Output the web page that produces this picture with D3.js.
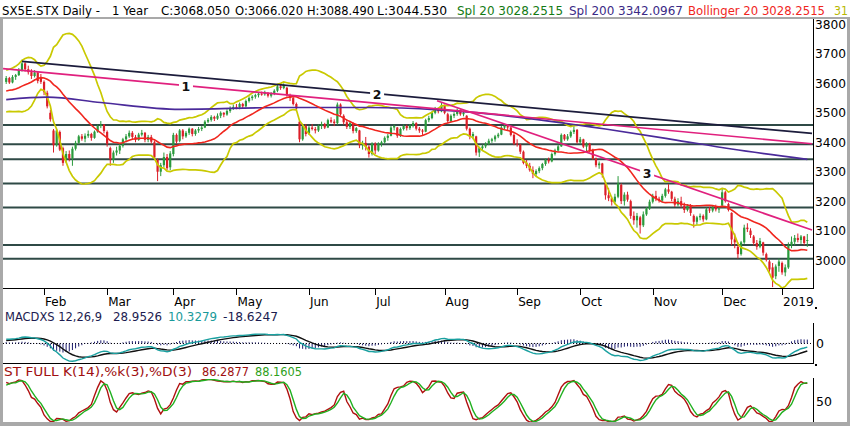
<!DOCTYPE html>
<html><head><meta charset="utf-8">
<script src="https://cdn.jsdelivr.net/npm/d3@7"></script>
<style>
body{margin:0;background:#fff}
svg{display:block}
text{font-family:"DejaVu Sans",sans-serif;font-size:12.5px}
</style>
</head><body>
<svg id="c" width="850" height="426"></svg>
<script>
// ---- DATA (daily bars, 16 Jan 2018 – 14 Jan 2019) ----
const opens = [3605,3618,3603,3622,3628,3645,3668,3648,3638,3625,3637,3620,
3605,3568,3500,3440,3390,3435,3380,3340,3360,3345,3378,3398,3420,3412,3422,3428,3415,3436,3455,3460,
3435,3380,3340,3365,3372,3388,3410,3420,3432,3418,3408,3426,3432,3408,3418,3400,3340,3300,3322,3350,3315,
3360,3425,3405,3440,3420,3432,3446,3428,3440,3445,3450,3470,3476,3486,3480,3490,3500,3494,3506,3515,
3520,3518,3530,3522,3540,3550,3555,3560,3565,3563,3568,3558,3565,3575,3590,3584,3585,3560,3550,3530,3470,3410,3455,
3430,3450,3445,3440,3455,3462,3450,3475,3470,3465,3528,3490,3468,3452,3465,3438,3440,3390,3398,3385,3360,
3395,3372,3395,3400,3415,3422,3450,3450,3422,3445,3455,3448,3456,3465,3446,3440,3436,3475,3482,3500,3515,3505,
3525,3495,3472,3490,3496,3510,3495,3490,3446,3420,3420,3365,3380,3386,3395,3405,3410,3420,3426,3450,3455,3450,3425,
3395,3392,3368,3330,3320,3305,3292,3302,3312,3326,3340,3335,3360,3372,3386,3425,3410,3420,3435,3442,
3400,3410,3385,3395,3372,3345,3322,3328,3260,3220,3210,3198,3215,3255,3200,3222,3200,3150,3135,3145,3118,3155,3175,
3198,3218,3208,3202,3218,3240,3232,3208,3188,3200,3185,3170,3185,3150,3130,3145,3150,3138,3172,3168,3180,3172,
3185,3230,3190,3160,3070,3045,3020,3060,3110,3100,3080,3058,3045,3060,3020,2995,2975,2945,2980,
2990,2958,2975,3050,3062,3075,3068,3080,3066.02];
const highs = [3625,3622,3628,3632,3652,3680,3672,3660,3648,3645,3640,3632,
3610,3575,3510,3445,3445,3440,3385,3370,3372,3385,3405,3425,3428,3430,3440,3432,3440,3460,3472,3462,
3440,3385,3372,3385,3395,3415,3428,3440,3438,3425,3432,3442,3435,3425,3425,3405,3345,3330,3365,3360,3370,
3432,3430,3445,3445,3438,3450,3448,3445,3452,3455,3475,3482,3492,3490,3498,3505,3502,3512,3522,3528,
3530,3535,3534,3545,3556,3560,3565,3570,3572,3575,3570,3570,3580,3595,3596,3600,3588,3565,3555,3535,3472,3460,3462,
3455,3462,3452,3460,3470,3466,3480,3485,3478,3535,3532,3495,3478,3470,3468,3452,3442,3405,3418,3390,3400,
3400,3400,3405,3420,3428,3455,3460,3452,3450,3460,3460,3462,3472,3468,3452,3445,3480,3490,3505,3520,3518,3535,
3528,3500,3495,3502,3515,3512,3508,3492,3450,3435,3422,3385,3392,3400,3412,3415,3425,3432,3455,3462,3460,3452,3430,
3410,3395,3372,3340,3330,3318,3308,3318,3330,3345,3348,3365,3378,3392,3430,3428,3428,3440,3455,3445,
3418,3412,3400,3398,3378,3348,3335,3330,3265,3245,3215,3225,3285,3260,3230,3232,3205,3165,3160,3150,3165,3180,3205,
3225,3235,3215,3225,3245,3258,3235,3215,3210,3215,3195,3190,3190,3155,3150,3158,3155,3178,3180,3185,3188,3180,
3245,3235,3195,3162,3090,3060,3065,3120,3125,3108,3085,3068,3075,3062,3025,3000,2990,2985,3005,
2995,2985,3060,3080,3085,3090,3085,3082,3088.49];
const lows = [3598,3598,3600,3612,3625,3640,3640,3630,3615,3620,3600,3598,
3560,3515,3470,3365,3385,3370,3320,3330,3335,3320,3372,3395,3405,3400,3415,3405,3412,3432,3448,3430,
3385,3320,3330,3355,3360,3382,3400,3415,3410,3400,3405,3420,3400,3400,3395,3340,3268,3285,3315,3305,3305,
3352,3395,3400,3410,3415,3425,3420,3422,3432,3438,3448,3465,3470,3472,3476,3482,3485,3490,3500,3510,
3512,3512,3515,3518,3535,3542,3548,3552,3558,3558,3552,3552,3560,3570,3578,3580,3555,3540,3525,3505,3400,3405,3420,
3425,3440,3430,3435,3445,3445,3448,3465,3455,3460,3490,3460,3445,3445,3430,3432,3380,3375,3372,3348,3355,
3360,3368,3385,3395,3405,3420,3440,3415,3418,3440,3440,3442,3450,3440,3432,3425,3434,3468,3478,3495,3498,3502,
3495,3465,3468,3482,3490,3490,3488,3440,3410,3410,3355,3350,3372,3380,3390,3398,3402,3414,3424,3444,3440,3420,3390,
3385,3360,3325,3312,3300,3278,3285,3295,3305,3320,3328,3332,3355,3368,3384,3405,3405,3415,3428,3395,
3395,3380,3370,3365,3340,3315,3310,3280,3205,3200,3185,3190,3210,3190,3185,3198,3140,3120,3110,3090,3112,3150,3170,
3192,3200,3195,3198,3212,3225,3200,3180,3182,3178,3160,3165,3150,3110,3120,3135,3130,3135,3160,3162,3165,3160,
3182,3195,3165,3050,3040,3005,3015,3055,3095,3075,3050,3035,3040,3015,2995,2960,2908,2935,2960,
2950,2945,2970,3040,3050,3060,3055,3050,3044.53];
const closes = [3618,3603,3622,3628,3645,3668,3648,3638,3625,3637,3608,3605,
3570,3522,3478,3390,3440,3375,3330,3360,3345,3378,3398,3420,3412,3422,3428,3415,3436,3455,3460,3438,
3395,3342,3365,3372,3388,3410,3420,3432,3418,3408,3426,3432,3408,3418,3402,3348,3300,3322,3350,3312,3362,
3425,3402,3440,3420,3432,3446,3428,3440,3445,3450,3470,3476,3486,3480,3490,3500,3494,3506,3515,3520,
3518,3530,3522,3540,3550,3555,3560,3565,3563,3568,3558,3565,3575,3590,3584,3592,3560,3550,3530,3515,3410,3455,3428,
3450,3445,3440,3455,3462,3450,3475,3470,3465,3528,3495,3468,3452,3465,3438,3448,3390,3398,3385,3360,3395,
3372,3395,3400,3415,3422,3450,3455,3422,3445,3455,3448,3456,3465,3446,3440,3436,3475,3482,3500,3515,3505,3525,
3500,3472,3490,3496,3510,3495,3500,3446,3420,3428,3365,3380,3386,3395,3405,3410,3420,3426,3450,3455,3450,3425,3395,
3392,3368,3330,3320,3305,3292,3302,3312,3326,3340,3335,3360,3372,3386,3425,3410,3420,3435,3442,3400,
3410,3385,3395,3372,3345,3322,3328,3290,3220,3210,3198,3215,3260,3200,3222,3205,3150,3135,3150,3118,3155,3175,3198,
3218,3208,3202,3218,3240,3232,3208,3188,3200,3185,3170,3185,3160,3130,3145,3150,3138,3172,3168,3180,3172,3175,
3230,3200,3170,3070,3060,3020,3060,3110,3105,3085,3058,3045,3065,3025,3002,2968,2940,2978,2995,
2958,2975,3050,3062,3075,3068,3080,3058,3068.05];

// bars before the visible window (needed by the 20-day, MACD and stochastic calculations)
const warmCloses = [3533,3590,3573,3553,3567,3592,3590,3606,3595,3575,3561,3592,3570,3552,3563,3553,3549,3526,3504,3510,3545,3590,3607,3612,3620,3600,3588,3614,3612];
const warmHighs  = [3560,3595,3592,3575,3572,3595,3600,3610,3612,3598,3580,3598,3592,3568,3570,3568,3560,3548,3528,3520,3550,3595,3612,3620,3628,3618,3602,3618,3622];
const warmLows   = [3520,3545,3565,3540,3545,3568,3580,3585,3588,3565,3552,3570,3562,3545,3548,3545,3540,3520,3500,3490,3515,3550,3588,3602,3605,3592,3578,3585,3598];

// 200-day average (bar index, value)
const sma200Idx  = [0,13,30,55,87,115,137,147,172,190,211,230,254];
const sma200Vals = [3545,3553,3535,3512,3518,3518,3510,3502,3472,3445,3410,3377,3342];

const monthLabels = ["Feb","Mar","Apr","May","Jun","Jul","Aug","Sep","Oct","Nov","Dec","2019"];
const monthIdx    = [12,32,53,73,96,117,139,162,182,205,227,246];
const priceTicks  = [3000,3100,3200,3300,3400,3500,3600,3700,3800];
const levels      = [3459,3393,3342,3260,3178,3051,3004];
// trend lines: [startIndex, startPrice, endIndex, endPrice]
const trendBlack  = [5,3675,255.5,3430];
const trendPink1  = [-1,3650,255.5,3395];
const trendPink3  = [136.6,3541,255.5,3102];
const trendLabels = ["1","2","3"];
const trendLabelIdx = [57,117.6,203.2];

// header / panel legends: [text, x, width, colour]
const headerItems = [
  ["SX5E.STX Daily -",2,98,"#000"],["1 Year",112,36,"#000"],["C:3068.050",161,69,"#000"],["O:3066.020",235,68,"#000"],
  ["H:3088.490",307,67,"#000"],["L:3044.530",377,70,"#000"],["Spl 20 3028.2515",457,106,"#137a13"],
  ["Spl 200 3342.0967",569,114,"#3b2a86"],["Bollinger 20 3028.2515",688,137,"#f0261e"],["31",834,14,"#b8b800"]];
const macdItems = [["MACDXS 12,26,9",5,97,"#1c1c50"],["28.9526",113,49,"#1c1c50"],["10.3279",168,49,"#1a9a9a"],["-18.6247",223,55,"#1c1c50"]];
const stochItems = [["ST FULL K(14),%k(3),%D(3)",4,188,"#a01010"],["86.2877",202,47,"#a01010"],["88.1605",255,47,"#2ea01a"]];

// ---- SCALES ----
const svg = d3.select("#c");
const N = closes.length, W = warmCloses.length;
const allC = warmCloses.concat(closes), allH = warmHighs.concat(highs), allL = warmLows.concat(lows);
const idx = d3.range(N);
const x = d3.scaleLinear().domain([0, N-1]).range([6.2, 807.3]);
const yP = d3.scaleLinear().domain([2905, 3822]).range([288, 18]);
const yM = d3.scaleLinear().domain([-70, 77]).range([363, 322]);
const yS = d3.scaleLinear().domain([0, 100]).range([424, 378]);

// ---- INDICATORS ----
function win(arr, n, i){ return arr.slice(i-n+1, i+1); }
const mid = idx.map(k => d3.mean(win(allC,20,W+k)));
const sd = idx.map((k,j) => { const w = win(allC,20,W+k), m = mid[j]; return Math.sqrt(d3.mean(w, v => (v-m)*(v-m))); });
const upper = mid.map((m,j) => m + 2*sd[j]);
const lower = mid.map((m,j) => m - 2*sd[j]);
function ema(arr, n){ const a = 2/(n+1); let e = arr[0]; return arr.map((v,i) => (e = i ? a*v + (1-a)*e : v)); }
const e12 = ema(allC,12), e26 = ema(allC,26);
const macdAll = e12.map((v,i) => v - e26[i]);
const sigAll = ema(macdAll, 9);
const macd = idx.map(k => macdAll[W+k]);
const sig = idx.map(k => sigAll[W+k]);
const hist = idx.map((k,j) => macd[j] - sig[j]);
const fastK = allC.map((c,i) => { if (i < 13) return null; const hh = d3.max(win(allH,14,i)), ll = d3.min(win(allL,14,i)); return 100*(c-ll)/(hh-ll); });
const kAll = fastK.map((v,i) => i < 15 ? null : d3.mean(win(fastK,3,i)));
const dAll = kAll.map((v,i) => i < 17 ? null : d3.mean(win(kAll,3,i)));
const stK = idx.map(k => kAll[W+k]);
const stD = idx.map(k => dAll[W+k]);

// ---- FRAME / CLIPS ----
const defs = svg.append("defs");
defs.append("clipPath").attr("id","cp").append("rect").attr("x",3).attr("y",19).attr("width",810).attr("height",269);
defs.append("clipPath").attr("id","cm").append("rect").attr("x",3).attr("y",322).attr("width",810).attr("height",41);
defs.append("clipPath").attr("id","cs").append("rect").attr("x",3).attr("y",379).attr("width",810).attr("height",43);

const gray = "#a9a9a9";
svg.append("rect").attr("x",0).attr("y",17).attr("width",850).attr("height",2).attr("fill",gray);
svg.append("rect").attr("x",0).attr("y",17).attr("width",3).attr("height",409).attr("fill",gray);
svg.append("rect").attr("x",847).attr("y",17).attr("width",3).attr("height",409).attr("fill",gray);
svg.append("rect").attr("x",0).attr("y",422).attr("width",850).attr("height",4).attr("fill",gray);

function legend(items, y, fs){
  svg.append("g").selectAll("text").data(items).join("text")
    .attr("x",d=>d[1]).attr("y",y).attr("fill",d=>d[3]).style("font-size",fs+"px")
    .attr("textLength",d=>d[2]).attr("lengthAdjust","spacingAndGlyphs").text(d=>d[0]);
}
legend(headerItems, 15, 12.5);

// ---- PRICE PANEL ----
const gp = svg.append("g").attr("clip-path","url(#cp)");
gp.selectAll("line.lv").data(levels).join("line").attr("class","lv")
  .attr("x1",3).attr("x2",813).attr("y1",d=>yP(d)).attr("y2",d=>yP(d))
  .attr("stroke","#2f4a46").attr("stroke-width",2);

const up = "#2a9a3c", dn = "#dc1e28";
const candles = gp.append("g").selectAll("g").data(idx).join("g");
candles.append("line").attr("x1",k=>x(k)).attr("x2",k=>x(k)).attr("y1",k=>yP(highs[k])).attr("y2",k=>yP(lows[k]))
  .attr("stroke",k=>closes[k]>=opens[k]?up:dn).attr("stroke-width",1);
candles.append("rect").attr("x",k=>x(k)-1.1).attr("width",2.2)
  .attr("y",k=>yP(Math.max(opens[k],closes[k])))
  .attr("height",k=>Math.max(1,Math.abs(yP(opens[k])-yP(closes[k]))))
  .attr("fill",k=>closes[k]>=opens[k]?up:dn);

const line = (arr, sc) => d3.line().x((d,j)=>x(j)).y(d=>sc(d))(arr);
gp.append("path").attr("d",line(upper,yP)).attr("fill","none").attr("stroke","#c9c900").attr("stroke-width",1.7);
gp.append("path").attr("d",line(lower,yP)).attr("fill","none").attr("stroke","#c9c900").attr("stroke-width",1.7);
const s200 = d3.line().x((d,j)=>x(sma200Idx[j])).y(d=>yP(d)).curve(d3.curveMonotoneX)(sma200Vals);
gp.append("path").attr("d",s200).attr("fill","none").attr("stroke","#4a2a9a").attr("stroke-width",1.7);
gp.append("path").attr("d",line(mid,yP)).attr("fill","none").attr("stroke","#f0261e").attr("stroke-width",1.6);

function tl(t, col){
  gp.append("line").attr("x1",x(t[0])).attr("y1",yP(t[1])).attr("x2",x(t[2])).attr("y2",yP(t[3]))
    .attr("stroke",col).attr("stroke-width",1.7);
}
tl(trendBlack,"#1c1c3c"); tl(trendPink1,"#e0207e"); tl(trendPink3,"#e0207e");
const tdefs = [trendPink1, trendBlack, trendPink3];
trendLabels.forEach((lab,i) => {
  const t = tdefs[i], k = trendLabelIdx[i];
  const v = t[1] + (t[3]-t[1])*(k-t[0])/(t[2]-t[0]);
  const cx = x(k), cy = yP(v);
  gp.append("rect").attr("x",cx-7).attr("y",cy-6).attr("width",14).attr("height",12).attr("fill","#fff");
  gp.append("text").attr("x",cx).attr("y",cy+5).attr("text-anchor","middle").attr("font-weight","bold").attr("fill","#111").text(lab);
});

// axes
svg.append("line").attr("x1",3).attr("x2",813).attr("y1",288.5).attr("y2",288.5).attr("stroke","#000");
svg.append("line").attr("x1",813.5).attr("x2",813.5).attr("y1",19).attr("y2",289).attr("stroke","#000");
svg.selectAll("text.pt").data(priceTicks).join("text").attr("class","pt")
  .attr("x",815).attr("y",d=>yP(d)+4.5).attr("fill","#000").attr("textLength",31).attr("lengthAdjust","spacingAndGlyphs").text(d=>d);
svg.selectAll("line.mt").data(monthIdx).join("line").attr("class","mt")
  .attr("x1",d=>Math.round(x(d))+0.5).attr("x2",d=>Math.round(x(d))+0.5).attr("y1",288).attr("y2",295).attr("stroke","#000");
svg.selectAll("text.ml").data(monthLabels).join("text").attr("class","ml")
  .attr("x",(d,i)=>x(monthIdx[i])+1).attr("y",306).attr("fill","#000").style("font-size","12px").text(d=>d);
svg.append("rect").attr("x",815).attr("y",307).attr("width",2).attr("height",2).attr("fill","#000");

// ---- MACD PANEL ----
legend(macdItems, 321, 12);
const gm = svg.append("g").attr("clip-path","url(#cm)");
gm.append("line").attr("x1",3).attr("x2",813).attr("y1",yM(0)).attr("y2",yM(0)).attr("stroke","#000").attr("stroke-dasharray","1,2");
gm.selectAll("line.hb").data(hist).join("line").attr("class","hb")
  .attr("x1",(d,j)=>x(j)).attr("x2",(d,j)=>x(j)).attr("y1",yM(0)).attr("y2",d=>yM(d))
  .attr("stroke","#1c1c6e").attr("stroke-width",1);
gm.append("path").attr("d",line(sig,yM)).attr("fill","none").attr("stroke","#111").attr("stroke-width",1.4);
gm.append("path").attr("d",line(macd,yM)).attr("fill","none").attr("stroke","#1aa0a0").attr("stroke-width",1.4);
svg.append("line").attr("x1",813.5).attr("x2",813.5).attr("y1",323).attr("y2",364).attr("stroke","#000");
svg.append("text").attr("x",816).attr("y",yM(0)+4.5).attr("fill","#000").text("0");
svg.append("rect").attr("x",815).attr("y",364).attr("width",2).attr("height",2).attr("fill","#000");
svg.append("line").attr("x1",3).attr("x2",813).attr("y1",363.5).attr("y2",363.5).attr("stroke","#000");

// ---- STOCHASTIC PANEL ----
legend(stochItems, 376, 12);
const gs = svg.append("g").attr("clip-path","url(#cs)");
gs.append("path").attr("d",line(stK,yS)).attr("fill","none").attr("stroke","#b01010").attr("stroke-width",1.4);
gs.append("path").attr("d",line(stD,yS)).attr("fill","none").attr("stroke","#20b020").attr("stroke-width",1.4);
svg.append("line").attr("x1",813.5).attr("x2",813.5).attr("y1",378).attr("y2",422).attr("stroke","#000");
svg.append("text").attr("x",816).attr("y",yS(50)+4.5).attr("fill","#000").text("50");
</script>
</body></html>
